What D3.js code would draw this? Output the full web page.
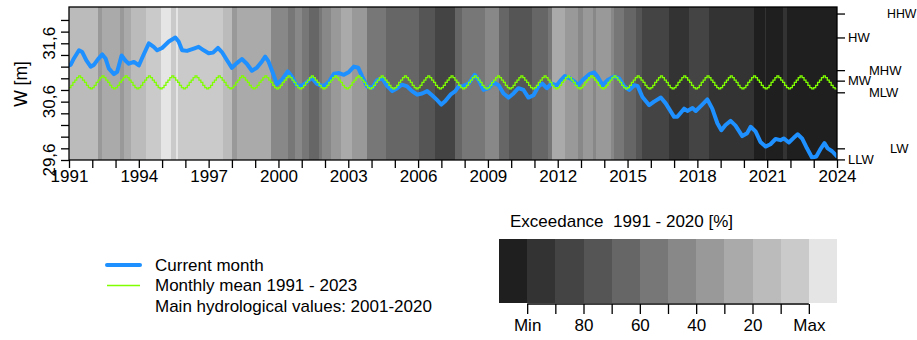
<!DOCTYPE html>
<html><head><meta charset="utf-8">
<script src="https://cdn.jsdelivr.net/npm/d3@7"></script>
<style>
body{margin:0;background:#fff;}
svg{display:block;font-family:"Liberation Sans",Arial,Helvetica,sans-serif;}
</style></head><body>
<svg id="chart" width="917" height="340"></svg>
<script>
// ---------------- data ----------------
const blueYears = [1991.0,1991.07,1991.21,1991.43,1991.57,1991.74,1991.93,1992.07,1992.25,1992.43,1992.57,1992.71,1992.93,1993.07,1993.26,1993.43,1993.57,1993.79,1994.0,1994.2,1994.43,1994.64,1994.79,1995.0,1995.29,1995.57,1995.71,1995.86,1996.07,1996.36,1996.57,1996.79,1997.0,1997.19,1997.4,1997.57,1997.79,1998.0,1998.21,1998.43,1998.64,1998.86,1999.07,1999.29,1999.43,1999.57,1999.79,1999.93,2000.14,2000.4,2000.57,2000.79,2001.0,2001.21,2001.43,2001.64,2001.86,2002.0,2002.17,2002.39,2002.6,2002.81,2003.03,2003.24,2003.43,2003.6,2003.81,2004.03,2004.24,2004.46,2004.67,2004.89,2005.1,2005.31,2005.53,2005.74,2005.96,2006.17,2006.39,2006.6,2006.81,2007.0,2007.17,2007.39,2007.6,2007.74,2007.96,2008.17,2008.43,2008.6,2008.81,2009.03,2009.24,2009.46,2009.67,2009.89,2010.1,2010.31,2010.53,2010.74,2010.96,2011.17,2011.34,2011.53,2011.74,2011.96,2012.14,2012.31,2012.53,2012.74,2012.86,2013.07,2013.36,2013.57,2013.71,2013.93,2014.14,2014.43,2014.64,2014.86,2015.07,2015.29,2015.43,2015.64,2015.93,2016.14,2016.43,2016.64,2017.0,2017.14,2017.43,2017.57,2017.79,2017.93,2018.21,2018.43,2018.64,2018.86,2019.03,2019.21,2019.43,2019.64,2019.93,2020.14,2020.29,2020.5,2020.71,2020.93,2021.14,2021.36,2021.57,2021.71,2021.93,2022.14,2022.31,2022.5,2022.71,2022.93,2023.11,2023.31,2023.46,2023.6,2023.79,2024.0];
const blueValues = [31.22,31.23,31.34,31.48,31.45,31.31,31.20,31.23,31.33,31.41,31.34,31.17,31.07,31.11,31.39,31.30,31.25,31.28,31.22,31.40,31.60,31.54,31.48,31.52,31.63,31.70,31.63,31.48,31.47,31.51,31.54,31.48,31.43,31.44,31.52,31.45,31.31,31.18,31.26,31.33,31.25,31.13,31.18,31.29,31.37,31.29,31.06,30.90,30.97,31.12,31.03,30.88,30.87,30.93,31.01,30.91,30.87,30.88,30.94,31.08,31.09,31.06,31.11,31.20,31.18,31.03,30.86,30.84,30.97,31.00,30.87,30.78,30.83,30.89,30.86,30.78,30.72,30.74,30.78,30.71,30.63,30.55,30.61,30.72,30.78,30.86,30.87,30.91,31.06,30.97,30.80,30.83,30.93,30.88,30.74,30.67,30.74,30.83,30.80,30.67,30.71,30.86,30.91,30.83,30.91,30.88,30.97,31.04,31.00,30.94,30.88,30.97,31.07,31.10,31.03,30.88,30.97,31.03,31.00,30.86,30.80,30.88,30.87,30.68,30.54,30.60,30.67,30.57,30.34,30.34,30.48,30.44,30.49,30.44,30.55,30.64,30.48,30.23,30.11,30.20,30.27,30.19,30.01,30.06,30.17,30.09,29.91,29.83,29.87,29.96,29.94,29.97,29.90,29.98,30.04,29.97,29.80,29.64,29.66,29.80,29.89,29.80,29.75,29.66];

// Monthly mean 1991 - 2023 (Jan..Dec)
const monthlyMean = [30.84,30.88,30.93,30.97,31.01,31.04,31.01,30.97,30.93,30.88,30.84,30.82];
const meanFirstYear = 1991;
const meanLastYear = 2023;

// Exceedance class of each month-band (start year, class 1 = Min ... 12 = Max)
const bandStarts  = [1991.0,1992.25,1992.4,1993.18,1993.35,1993.68,1994.33,1994.97,1995.4,1995.59,1995.69,1997.6,1998.0,1998.2,1999.0,1999.7,2000.43,2000.71,2001.0,2001.3,2001.74,2001.89,2002.24,2002.67,2003.17,2003.81,2004.6,2006.03,2006.74,2007.6,2007.89,2008.89,2009.46,2009.89,2010.89,2011.6,2011.74,2012.31,2012.86,2013.07,2013.5,2013.64,2014.29,2014.43,2014.86,2015.36,2015.64,2016.79,2016.93,2017.64,2018.5,2020.43,2020.9,2020.96,2021.7,2021.85,2022.07];
const bandClasses = [10,8,9,8,9,10,11,12,11,12,11,10,8,9,9,7,6,7,6,5,6,7,8,9,8,6,5,4,3,5,6,7,5,4,5,6,9,8,7,8,7,8,7,6,5,4,3,2,2,3,2,1,2,1,2,1,1];

const exceedanceColors = ["#1f1f1f","#333333","#444444","#555555","#666666","#777777","#888888","#999999","#aaaaaa","#bbbbbb","#cacaca","#e5e5e5"];
const colorbarTickLabels = ["Min","","80","","60","","40","","20","","Max"];

const yLabelValues = [29.6,30.6,31.6];
const hydroNames  = ["HHW","HW","MHW","MW","MLW","LW","LLW"];
const hydroValues = [32.11,31.70,31.14,30.96,30.76,29.80,29.61];

const legendLabels = ["Current month","Monthly mean 1991 - 2023","Main hydrological values: 2001-2020"];
const colorbarTitle = "Exceedance  1991 - 2020 [%]";
const yTitle = "W [m]";

// ---------------- layout ----------------
const svg = d3.select("#chart");
const X0 = 69, X1 = 837, Y0 = 7, Y1 = 160;
const FONT = 17;
const x = d3.scaleLinear().domain([1991, 2024]).range([X0, X1]);
const y = d3.scaleLinear().domain([29.6, 32.222]).range([Y1, Y0]);

// background bands
const bandEnds = bandStarts.slice(1).concat([2024]);
svg.append("g").selectAll("rect").data(bandStarts).join("rect")
  .attr("x", d => x(d))
  .attr("width", (d, i) => Math.max(0, x(bandEnds[i]) - x(d) + 0.4))
  .attr("y", Y0).attr("height", Y1 - Y0)
  .attr("fill", (d, i) => exceedanceColors[bandClasses[i] - 1])
  .attr("shape-rendering", "crispEdges");

svg.append("clipPath").attr("id", "pc").append("rect")
  .attr("x", X0).attr("y", Y0).attr("width", X1 - X0).attr("height", Y1 - Y0);

// current month line
const blueLine = d3.line().x((d, i) => x(blueYears[i])).y(d => y(d));
svg.append("path").datum(blueValues)
  .attr("clip-path", "url(#pc)")
  .attr("d", blueLine)
  .attr("fill", "none").attr("stroke", "#1e90ff").attr("stroke-width", 4)
  .attr("stroke-linejoin", "round").attr("stroke-linecap", "round");

// monthly mean (step line)
const meanPts = [];
for (let yr = meanFirstYear; yr <= meanLastYear; yr++) {
  monthlyMean.forEach((v, m) => meanPts.push([yr + m / 12, v]));
}
meanPts.push([meanLastYear + 1, monthlyMean[11]]);
svg.append("path").datum(meanPts)
  .attr("d", d3.line().x(d => x(d[0])).y(d => y(d[1])).curve(d3.curveStepAfter))
  .attr("fill", "none").attr("stroke", "#7fff00").attr("stroke-width", 1.3);

// frame
svg.append("rect").attr("x", X0).attr("y", Y0).attr("width", X1 - X0).attr("height", Y1 - Y0)
  .attr("fill", "none").attr("stroke", "#000").attr("stroke-width", 1.3);

// x axis
const xAxis = svg.append("g").attr("transform", `translate(0,${Y1})`)
  .call(d3.axisBottom(x).tickValues(d3.range(1991, 2025)).tickSize(8).tickSizeOuter(0).tickPadding(2)
    .tickFormat(d => (d - 1991) % 3 === 0 ? String(d) : ""));
xAxis.select(".domain").remove();
xAxis.selectAll("line").attr("stroke", "#000").attr("stroke-width", 1.3);
xAxis.selectAll("text").attr("font-size", FONT).attr("fill", "#000").attr("font-family", null);

// left axis
const yAxis = svg.append("g").attr("transform", `translate(${X0},0)`)
  .call(d3.axisLeft(y).tickValues(d3.range(0, 13).map(i => +(29.6 + 0.2 * i).toFixed(1)))
    .tickSize(8).tickSizeOuter(0).tickFormat(""));
yAxis.select(".domain").remove();
yAxis.selectAll("line").attr("stroke", "#000").attr("stroke-width", 1.3);
svg.append("g").selectAll("text").data(yLabelValues).join("text")
  .attr("transform", d => `translate(49,${y(d)}) rotate(-90)`)
  .attr("text-anchor", "middle").attr("dy", "0.35em")
  .attr("font-size", FONT)
  .text(d => d.toFixed(1).replace(".", ","));

svg.append("text").attr("transform", `translate(21,84) rotate(-90)`)
  .attr("text-anchor", "middle").attr("dy", "0.35em").attr("font-size", FONT + 0.5)
  .text(yTitle);

// right axis: main hydrological values
const rAxis = svg.append("g").attr("transform", `translate(${X1},0)`)
  .call(d3.axisRight(y).tickValues(hydroValues).tickSize(8).tickSizeOuter(0).tickFormat(""));
rAxis.select(".domain").remove();
rAxis.selectAll("line").attr("stroke", "#000").attr("stroke-width", 1.3);
const labelStagger = [50, 11, 32, 11, 32, 53, 11];
svg.append("g").selectAll("text").data(hydroNames).join("text")
  .attr("x", (d, i) => X1 + labelStagger[i])
  .attr("y", (d, i) => y(hydroValues[i]))
  .attr("dy", "0.36em").attr("font-size", (d, i) => i === 0 ? 12.3 : 13)
  .text(d => d);

// legend
const legY = [265, 285.5, 306];
svg.append("line").attr("x1", 107).attr("x2", 140).attr("y1", legY[0]).attr("y2", legY[0])
  .attr("stroke", "#1e90ff").attr("stroke-width", 4).attr("stroke-linecap", "round");
svg.append("line").attr("x1", 107).attr("x2", 140).attr("y1", legY[1]).attr("y2", legY[1])
  .attr("stroke", "#7fff00").attr("stroke-width", 1.3);
svg.append("g").selectAll("text").data(legendLabels).join("text")
  .attr("x", 155).attr("y", (d, i) => legY[i]).attr("dy", "0.35em")
  .attr("font-size", FONT).text(d => d);

// colour bar
const cx = d3.scaleLinear().domain([0, 12]).range([499, 837]);
svg.append("text").attr("x", 510).attr("y", 221).attr("dy", "0.35em")
  .attr("font-size", FONT).style("white-space", "pre").text(colorbarTitle);
svg.append("g").selectAll("rect").data(exceedanceColors).join("rect")
  .attr("x", (d, i) => cx(i)).attr("width", (d, i) => cx(i + 1) - cx(i) + 0.4)
  .attr("y", 239).attr("height", 64)
  .attr("fill", d => d).attr("shape-rendering", "crispEdges");
const cAxis = svg.append("g").attr("transform", "translate(0,304)")
  .call(d3.axisBottom(cx).tickValues(d3.range(1, 12)).tickSize(10).tickSizeOuter(0).tickPadding(5)
    .tickFormat((d, i) => colorbarTickLabels[i]));
cAxis.select(".domain").remove();
cAxis.append("line").attr("x1", cx(1)).attr("x2", cx(11)).attr("y1", 0).attr("y2", 0)
  .attr("stroke", "#000").attr("stroke-width", 1.3);
cAxis.selectAll("line").attr("stroke", "#000").attr("stroke-width", 1.3);
cAxis.selectAll("text").attr("font-size", FONT).attr("fill", "#000").attr("font-family", null);
</script>
</body></html>
